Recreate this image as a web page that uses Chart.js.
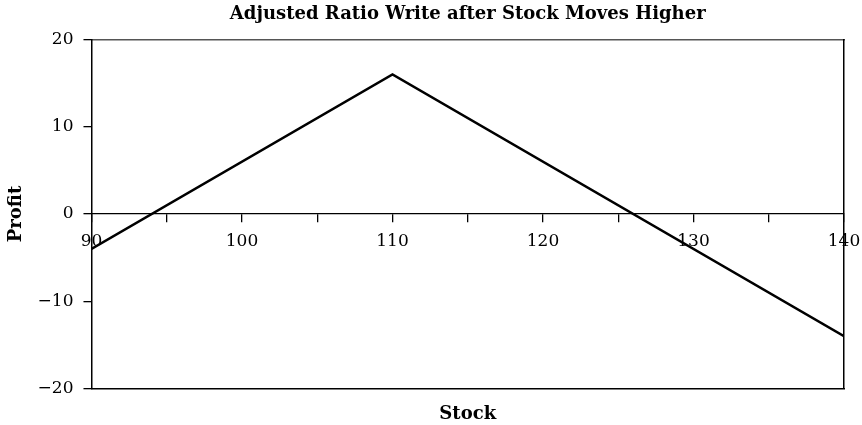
<!DOCTYPE html>
<html>
<head>
<meta charset="utf-8">
<script src="https://cdn.jsdelivr.net/npm/chart.js@4"></script>
<style>
  html, body { margin: 0; padding: 0; background: #fff; }
  #wrap { width: 862px; height: 425px; }
</style>
</head>
<body>
<div id="wrap"><canvas id="payoffChart" width="862" height="425"></canvas></div>
<script>
// data
const stockPrices = [90, 110, 140];
const profitValues = [-4, 16, -14];
const xLabelTicks = [90, 100, 110, 120, 130, 140];
const yLabelTicks = [-20, -10, 0, 10, 20];

const serif = "'DejaVu Serif', 'Liberation Serif', serif";

const points = stockPrices.map((s, i) => ({ x: s, y: profitValues[i] }));

const ctx = document.getElementById('payoffChart').getContext('2d');
const payoffChart = new Chart(ctx, {
    type: 'line',
    data: {
        datasets: [{
            data: points,
            borderColor: '#000',
            borderWidth: 2.5,
            pointRadius: 0,
            fill: false,
            tension: 0,
            xAxisID: 'x',
            yAxisID: 'y'
        }]
    },
    options: {
        responsive: false,
        animation: false,
        layout: { padding: { left: 0, right: 0, top: 4, bottom: 0 } },
        plugins: {
            legend: { display: false },
            tooltip: { enabled: false },
            title: {
                display: true,
                text: 'Adjusted Ratio Write after Stock Moves Higher',
                fullSize: false,
                color: '#000',
                font: { family: serif, size: 18, weight: 'bold' },
                padding: { top: 0, bottom: 6 }
            }
        },
        scales: {
            x: {
                type: 'linear',
                position: { y: 0 },
                min: 90,
                max: 140,
                afterFit: (axis) => { axis.paddingRight = 0; axis.paddingLeft = 0; },
                ticks: {
                    stepSize: 5,
                    color: '#000',
                    font: { family: serif, size: 17 },
                    padding: 9,
                    maxRotation: 0,
                    autoSkip: false,
                    callback: (v) => xLabelTicks.includes(v) ? String(v) : ''
                },
                grid: { drawOnChartArea: false, tickLength: 8, color: '#000', lineWidth: 1.3 },
                border: { display: true, color: '#000', width: 1.3 }
            },
            xBottom: {
                type: 'linear',
                position: 'bottom',
                min: 90,
                max: 140,
                ticks: { display: false },
                grid: { display: false },
                border: { display: true, color: '#000', width: 1.5 },
                title: {
                    display: true,
                    text: 'Stock',
                    color: '#000',
                    font: { family: serif, size: 18, weight: 'bold' },
                    padding: { top: 7, bottom: 0 }
                }
            },
            xTop: {
                type: 'linear',
                position: 'top',
                min: 90,
                max: 140,
                ticks: { display: false },
                grid: { display: false },
                border: { display: true, color: '#555', width: 1.5 }
            },
            y: {
                position: 'left',
                min: -20,
                max: 20,
                afterBuildTicks: (axis) => { axis.ticks = yLabelTicks.map(v => ({ value: v })); },
                ticks: {
                    color: '#000',
                    font: { family: serif, size: 17 },
                    padding: 10,
                    callback: (v) => v < 0 ? '\u2212' + Math.abs(v) : String(v)
                },
                grid: { drawOnChartArea: false, tickLength: 8, color: '#000', lineWidth: 1.3 },
                border: { display: true, color: '#000', width: 1.5 },
                title: {
                    display: true,
                    text: 'Profit',
                    color: '#000',
                    font: { family: serif, size: 18, weight: 'bold' },
                    padding: { top: 6, bottom: 0 }
                }
            },
            yRight: {
                position: 'right',
                min: -20,
                max: 20,
                afterFit: (axis) => { axis.width = 18; },
                ticks: { display: false },
                grid: { display: false },
                border: { display: true, color: '#000', width: 1.5 }
            }
        }
    }
});
</script>
</body>
</html>
